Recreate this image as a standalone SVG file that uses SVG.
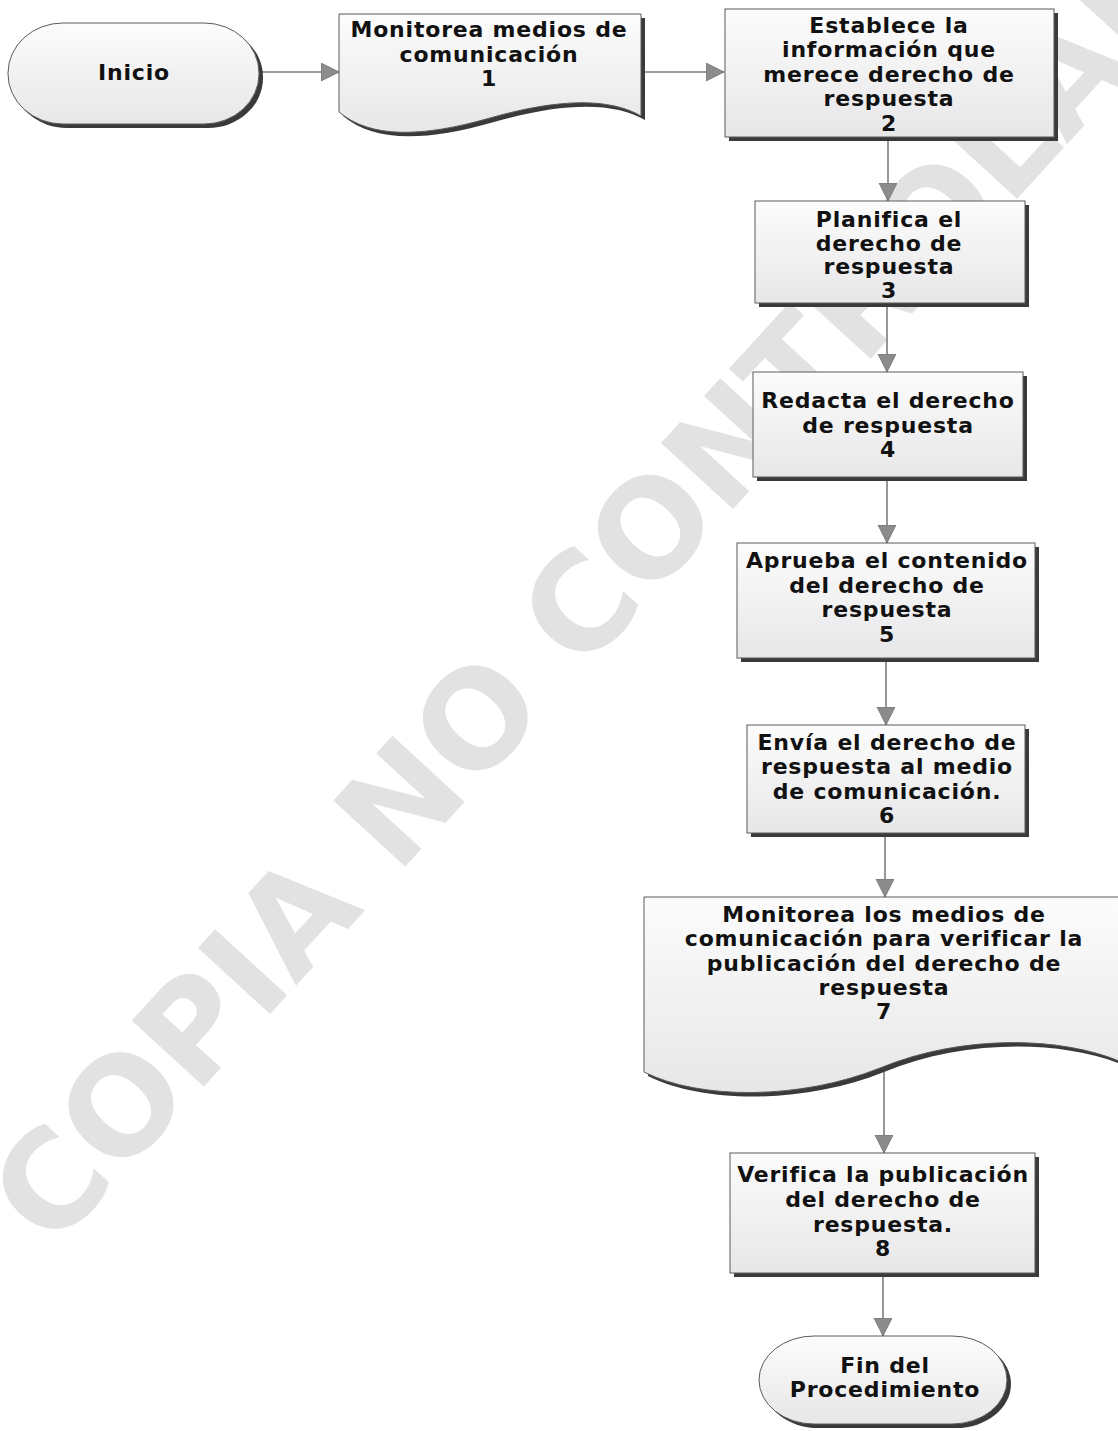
<svg xmlns="http://www.w3.org/2000/svg" width="1118" height="1431" viewBox="0 0 1118 1431">
<style>
.lbl{font-family:"DejaVu Sans","Liberation Sans",sans-serif;font-weight:bold;font-size:22px;letter-spacing:0.8px;text-anchor:middle;fill:#111111}
.shape{fill:url(#fillg);stroke:#5a5a5a;stroke-width:1}
.shadow{fill:#3a3a3a}
.conn{stroke:#7d7d7d;stroke-width:1.6;fill:none;marker-end:url(#ah)}
.wm{font-family:"DejaVu Sans","Liberation Sans",sans-serif;font-weight:bold;font-size:134px;fill:#e2e2e2}
</style>
<defs>
<linearGradient id="fillg" x1="0" y1="0" x2="0" y2="1">
<stop offset="0" stop-color="#fcfcfc"/>
<stop offset="1" stop-color="#e7e7e9"/>
</linearGradient>
<marker id="ah" markerUnits="userSpaceOnUse" markerWidth="20" markerHeight="20" refX="18" refY="9" orient="auto">
<path d="M0,0 L18,9 L0,18 Z" fill="#8c8c8c" stroke="#6e6e6e" stroke-width="0.8"/>
</marker>
</defs>
<rect width="1118" height="1431" fill="#ffffff"/>
<g id="watermark">
<text class="wm" transform="translate(52,1252) rotate(-47.5)">COPIA NO CONTROLADA</text>
</g>
<g id="connectors">
<line class="conn" x1="259" y1="72" x2="339" y2="72"/>
<line class="conn" x1="641" y1="72" x2="724" y2="72"/>
<line class="conn" x1="888" y1="137" x2="888" y2="201"/>
<line class="conn" x1="887" y1="303" x2="887" y2="372"/>
<line class="conn" x1="887" y1="477" x2="887" y2="543"/>
<line class="conn" x1="886" y1="658" x2="886" y2="725"/>
<line class="conn" x1="885" y1="833" x2="885" y2="897"/>
<line class="conn" x1="884" y1="1068" x2="884" y2="1153"/>
<line class="conn" x1="883" y1="1273" x2="883" y2="1336"/>
</g>
<g id="inicio">
<rect class="shadow" x="12" y="27" width="251" height="101" rx="55" ry="50"/>
<rect class="shape" x="8" y="23" width="251" height="101" rx="55" ry="50"/>
<text class="lbl" x="134" y="80">Inicio</text>
</g>
<g id="n1">
<path class="shadow" transform="translate(4,4)" d="M339,14 H641 V116 C610,98 560,98 490,118 C420,138 370,138 339,112 Z"/>
<path class="shape" d="M339,14 H641 V116 C610,98 560,98 490,118 C420,138 370,138 339,112 Z"/>
<text class="lbl" x="489" y="37">Monitorea medios de</text>
<text class="lbl" x="489" y="61.5">comunicación</text>
<text class="lbl" x="489" y="86">1</text>
</g>
<g id="n2">
<rect class="shadow" x="729" y="13" width="329" height="128"/>
<rect class="shape" x="725" y="9" width="329" height="128"/>
<text class="lbl" x="889" y="32.5">Establece la</text>
<text class="lbl" x="889" y="57">información que</text>
<text class="lbl" x="889" y="81.5">merece derecho de</text>
<text class="lbl" x="889" y="106">respuesta</text>
<text class="lbl" x="889" y="130.5">2</text>
</g>
<g id="n3">
<rect class="shadow" x="759" y="205" width="270" height="102"/>
<rect class="shape" x="755" y="201" width="270" height="102"/>
<text class="lbl" x="889" y="227">Planifica el</text>
<text class="lbl" x="889" y="250.5">derecho de</text>
<text class="lbl" x="889" y="274">respuesta</text>
<text class="lbl" x="889" y="297.5">3</text>
</g>
<g id="n4">
<rect class="shadow" x="757" y="376" width="270" height="105"/>
<rect class="shape" x="753" y="372" width="270" height="105"/>
<text class="lbl" x="888" y="408">Redacta el derecho</text>
<text class="lbl" x="888" y="432.5">de respuesta</text>
<text class="lbl" x="888" y="457">4</text>
</g>
<g id="n5">
<rect class="shadow" x="741" y="547" width="298" height="115"/>
<rect class="shape" x="737" y="543" width="298" height="115"/>
<text class="lbl" x="887" y="568">Aprueba el contenido</text>
<text class="lbl" x="887" y="592.5">del derecho de</text>
<text class="lbl" x="887" y="617">respuesta</text>
<text class="lbl" x="887" y="641.5">5</text>
</g>
<g id="n6">
<rect class="shadow" x="751" y="729" width="278" height="108"/>
<rect class="shape" x="747" y="725" width="278" height="108"/>
<text class="lbl" x="887" y="750">Envía el derecho de</text>
<text class="lbl" x="887" y="774">respuesta al medio</text>
<text class="lbl" x="887" y="798.5">de comunicación.</text>
<text class="lbl" x="887" y="822.5">6</text>
</g>
<g id="n7">
<path class="shadow" transform="translate(4,4)" d="M644,897 H1124 V1063 C1060,1035 960,1035 880,1068 C800,1100 700,1100 644,1072 Z"/>
<path class="shape" d="M644,897 H1124 V1063 C1060,1035 960,1035 880,1068 C800,1100 700,1100 644,1072 Z"/>
<text class="lbl" x="884" y="921.5">Monitorea los medios de</text>
<text class="lbl" x="884" y="946">comunicación para verificar la</text>
<text class="lbl" x="884" y="970.5">publicación del derecho de</text>
<text class="lbl" x="884" y="994.5">respuesta</text>
<text class="lbl" x="884" y="1018.5">7</text>
</g>
<g id="n8">
<rect class="shadow" x="734" y="1157" width="305" height="120"/>
<rect class="shape" x="730" y="1153" width="305" height="120"/>
<text class="lbl" x="883" y="1182">Verifica la publicación</text>
<text class="lbl" x="883" y="1207">del derecho de</text>
<text class="lbl" x="883" y="1231.5">respuesta.</text>
<text class="lbl" x="883" y="1256">8</text>
</g>
<g id="fin">
<rect class="shadow" x="763" y="1340" width="248" height="88" rx="55" ry="44"/>
<rect class="shape" x="759" y="1336" width="248" height="88" rx="55" ry="44"/>
<text class="lbl" x="885" y="1373">Fin del</text>
<text class="lbl" x="885" y="1397">Procedimiento</text>
</g>
</svg>
